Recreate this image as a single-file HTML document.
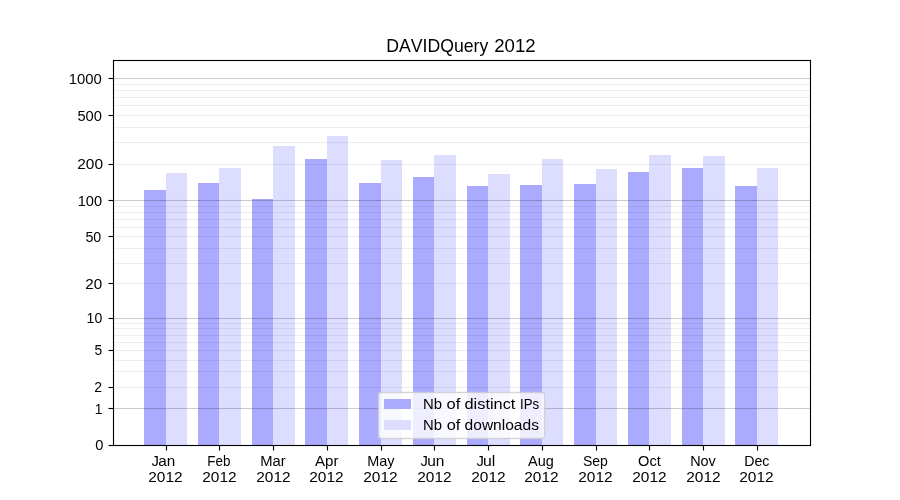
<!DOCTYPE html><html><head><meta charset="utf-8"><style>html,body{margin:0;padding:0;background:#fff;width:900px;height:500px;overflow:hidden}svg{display:block;will-change:transform}text{font-family:"Liberation Sans",sans-serif;fill:#000;font-kerning:none}</style></head><body>
<svg width="900" height="500" viewBox="0 0 900 500">
<rect x="0" y="0" width="900" height="500" fill="#fff"/>
<g shape-rendering="crispEdges">
<rect x="144" y="190" width="22" height="255" fill="#aaaaff"/>
<rect x="198" y="183" width="21" height="262" fill="#aaaaff"/>
<rect x="252" y="199" width="21" height="246" fill="#aaaaff"/>
<rect x="305" y="159" width="22" height="286" fill="#aaaaff"/>
<rect x="359" y="183" width="22" height="262" fill="#aaaaff"/>
<rect x="413" y="177" width="21" height="268" fill="#aaaaff"/>
<rect x="467" y="186" width="21" height="259" fill="#aaaaff"/>
<rect x="520" y="185" width="22" height="260" fill="#aaaaff"/>
<rect x="574" y="184" width="22" height="261" fill="#aaaaff"/>
<rect x="628" y="172" width="21" height="273" fill="#aaaaff"/>
<rect x="682" y="168" width="21" height="277" fill="#aaaaff"/>
<rect x="735" y="186" width="22" height="259" fill="#aaaaff"/>
<rect x="166" y="173" width="21" height="272" fill="#ddddff"/>
<rect x="219" y="168" width="22" height="277" fill="#ddddff"/>
<rect x="273" y="146" width="22" height="299" fill="#ddddff"/>
<rect x="327" y="136" width="21" height="309" fill="#ddddff"/>
<rect x="381" y="160" width="21" height="285" fill="#ddddff"/>
<rect x="434" y="155" width="22" height="290" fill="#ddddff"/>
<rect x="488" y="174" width="22" height="271" fill="#ddddff"/>
<rect x="542" y="159" width="21" height="286" fill="#ddddff"/>
<rect x="596" y="169" width="21" height="276" fill="#ddddff"/>
<rect x="649" y="155" width="22" height="290" fill="#ddddff"/>
<rect x="703" y="156" width="22" height="289" fill="#ddddff"/>
<rect x="757" y="168" width="21" height="277" fill="#ddddff"/>
</g>
<rect x="113.5" y="77.945" width="696.5" height="1.111" fill="#000" fill-opacity="0.2"/>
<rect x="113.5" y="199.945" width="696.5" height="1.111" fill="#000" fill-opacity="0.2"/>
<rect x="113.5" y="317.945" width="696.5" height="1.111" fill="#000" fill-opacity="0.2"/>
<rect x="113.5" y="407.945" width="696.5" height="1.111" fill="#000" fill-opacity="0.2"/>
<rect x="113.5" y="83.945" width="696.5" height="1.111" fill="#000" fill-opacity="0.065"/>
<rect x="113.5" y="89.945" width="696.5" height="1.111" fill="#000" fill-opacity="0.065"/>
<rect x="113.5" y="96.945" width="696.5" height="1.111" fill="#000" fill-opacity="0.065"/>
<rect x="113.5" y="104.945" width="696.5" height="1.111" fill="#000" fill-opacity="0.065"/>
<rect x="113.5" y="114.945" width="696.5" height="1.111" fill="#000" fill-opacity="0.065"/>
<rect x="113.5" y="126.945" width="696.5" height="1.111" fill="#000" fill-opacity="0.065"/>
<rect x="113.5" y="141.945" width="696.5" height="1.111" fill="#000" fill-opacity="0.065"/>
<rect x="113.5" y="163.945" width="696.5" height="1.111" fill="#000" fill-opacity="0.065"/>
<rect x="113.5" y="205.945" width="696.5" height="1.111" fill="#000" fill-opacity="0.065"/>
<rect x="113.5" y="211.945" width="696.5" height="1.111" fill="#000" fill-opacity="0.065"/>
<rect x="113.5" y="218.945" width="696.5" height="1.111" fill="#000" fill-opacity="0.065"/>
<rect x="113.5" y="226.945" width="696.5" height="1.111" fill="#000" fill-opacity="0.065"/>
<rect x="113.5" y="235.945" width="696.5" height="1.111" fill="#000" fill-opacity="0.065"/>
<rect x="113.5" y="247.945" width="696.5" height="1.111" fill="#000" fill-opacity="0.065"/>
<rect x="113.5" y="262.945" width="696.5" height="1.111" fill="#000" fill-opacity="0.065"/>
<rect x="113.5" y="282.945" width="696.5" height="1.111" fill="#000" fill-opacity="0.065"/>
<rect x="113.5" y="322.945" width="696.5" height="1.111" fill="#000" fill-opacity="0.065"/>
<rect x="113.5" y="327.945" width="696.5" height="1.111" fill="#000" fill-opacity="0.065"/>
<rect x="113.5" y="334.945" width="696.5" height="1.111" fill="#000" fill-opacity="0.065"/>
<rect x="113.5" y="341.945" width="696.5" height="1.111" fill="#000" fill-opacity="0.065"/>
<rect x="113.5" y="349.945" width="696.5" height="1.111" fill="#000" fill-opacity="0.065"/>
<rect x="113.5" y="359.945" width="696.5" height="1.111" fill="#000" fill-opacity="0.065"/>
<rect x="113.5" y="370.945" width="696.5" height="1.111" fill="#000" fill-opacity="0.065"/>
<rect x="113.5" y="386.945" width="696.5" height="1.111" fill="#000" fill-opacity="0.065"/>
<rect x="112.945" y="59.944" width="698.111" height="1.111" fill="#000"/>
<rect x="112.945" y="444.945" width="698.111" height="1.111" fill="#000"/>
<rect x="112.945" y="59.944" width="1.111" height="386.111" fill="#000"/>
<rect x="809.944" y="59.944" width="1.111" height="386.111" fill="#000"/>
<rect x="108.5" y="77.945" width="5" height="1.111" fill="#000"/>
<rect x="108.5" y="114.945" width="5" height="1.111" fill="#000"/>
<rect x="108.5" y="163.945" width="5" height="1.111" fill="#000"/>
<rect x="108.5" y="199.945" width="5" height="1.111" fill="#000"/>
<rect x="108.5" y="235.945" width="5" height="1.111" fill="#000"/>
<rect x="108.5" y="282.945" width="5" height="1.111" fill="#000"/>
<rect x="108.5" y="317.945" width="5" height="1.111" fill="#000"/>
<rect x="108.5" y="349.945" width="5" height="1.111" fill="#000"/>
<rect x="108.5" y="386.945" width="5" height="1.111" fill="#000"/>
<rect x="108.5" y="407.945" width="5" height="1.111" fill="#000"/>
<rect x="108.5" y="444.945" width="5" height="1.111" fill="#000"/>
<rect x="165.945" y="445.5" width="1.111" height="5" fill="#000"/>
<rect x="218.945" y="445.5" width="1.111" height="5" fill="#000"/>
<rect x="272.945" y="445.5" width="1.111" height="5" fill="#000"/>
<rect x="326.945" y="445.5" width="1.111" height="5" fill="#000"/>
<rect x="380.945" y="445.5" width="1.111" height="5" fill="#000"/>
<rect x="433.945" y="445.5" width="1.111" height="5" fill="#000"/>
<rect x="487.945" y="445.5" width="1.111" height="5" fill="#000"/>
<rect x="541.944" y="445.5" width="1.111" height="5" fill="#000"/>
<rect x="595.944" y="445.5" width="1.111" height="5" fill="#000"/>
<rect x="648.944" y="445.5" width="1.111" height="5" fill="#000"/>
<rect x="702.944" y="445.5" width="1.111" height="5" fill="#000"/>
<rect x="756.944" y="445.5" width="1.111" height="5" fill="#000"/>
<rect x="378.5" y="392.5" width="166" height="46" rx="2.78" ry="2.78" fill="#fff" fill-opacity="0.8" stroke="#ccc" stroke-opacity="0.8" stroke-width="1.389"/>
<rect x="384" y="399" width="27" height="10" fill="#aaaaff" shape-rendering="crispEdges"/>
<rect x="384" y="420" width="27" height="10" fill="#ddddff" shape-rendering="crispEdges"/>
<text transform="matrix(0.99963 0 0 0.99052 386.256 51.877)" font-size="17.667">DAVIDQuery</text>
<text transform="matrix(1.05576 0 0 1.00190 494.163 52.000)" font-size="17.667">2012</text>
<text transform="matrix(0.99699 0 0 1.03477 95.325 450.198)" font-size="14.722">0</text>
<text transform="matrix(0.93829 0 0 1.01973 94.701 414.000)" font-size="14.722">1</text>
<text transform="matrix(0.95464 0 0 1.01899 94.320 392.000)" font-size="14.722">2</text>
<text transform="matrix(0.93997 0 0 1.02988 94.408 355.299)" font-size="14.722">5</text>
<text transform="matrix(0.95627 0 0 1.02268 86.595 323.000)" font-size="14.722">10</text>
<text transform="matrix(1.03354 0 0 1.00477 85.247 289.000)" font-size="14.722">20</text>
<text transform="matrix(0.96803 0 0 1.01955 85.393 242.195)" font-size="14.722">50</text>
<text transform="matrix(0.99307 0 0 1.03057 77.671 206.000)" font-size="14.722">100</text>
<text transform="matrix(1.05306 0 0 1.00708 77.194 169.000)" font-size="14.722">200</text>
<text transform="matrix(0.99771 0 0 1.01467 77.408 121.147)" font-size="14.722">500</text>
<text transform="matrix(1.01304 0 0 1.02273 68.633 84.000)" font-size="14.722">1000</text>
<text transform="matrix(1.00237 0 0 1.00237 151.416 466.024)" font-size="14.722">J</text>
<text transform="matrix(1.03900 0 0 1.00623 158.231 466.000)" font-size="14.722">an</text>
<text transform="matrix(1.05089 0 0 1.00764 148.191 482.000)" font-size="14.722">2012</text>
<text transform="matrix(0.91036 0 0 1.04853 207.272 466.024)" font-size="14.722">Feb</text>
<text transform="matrix(1.05089 0 0 1.00764 202.191 482.000)" font-size="14.722">2012</text>
<text transform="matrix(1.00282 0 0 1.00242 260.159 466.024)" font-size="14.722">Mar</text>
<text transform="matrix(1.05089 0 0 1.00764 256.191 482.000)" font-size="14.722">2012</text>
<text transform="matrix(1.02212 0 0 1.02875 315.000 466.153)" font-size="14.722">Apr</text>
<text transform="matrix(1.05089 0 0 1.00764 309.191 482.000)" font-size="14.722">2012</text>
<text transform="matrix(0.98155 0 0 1.00000 367.163 466.000)" font-size="14.722">May</text>
<text transform="matrix(1.05089 0 0 1.00764 363.191 482.000)" font-size="14.722">2012</text>
<text transform="matrix(1.00242 0 0 1.00242 420.449 466.024)" font-size="14.722">J</text>
<text transform="matrix(1.05270 0 0 1.00000 427.146 466.000)" font-size="14.722">un</text>
<text transform="matrix(1.05089 0 0 1.00764 417.191 482.000)" font-size="14.722">2012</text>
<text transform="matrix(1.00242 0 0 1.00242 476.449 466.024)" font-size="14.722">J</text>
<text transform="matrix(1.07490 0 0 1.04957 483.071 466.181)" font-size="14.722">ul</text>
<text transform="matrix(1.05089 0 0 1.00764 471.191 482.000)" font-size="14.722">2012</text>
<text transform="matrix(0.98390 0 0 0.99125 528.087 465.856)" font-size="14.722">Aug</text>
<text transform="matrix(1.05089 0 0 1.00764 524.191 482.000)" font-size="14.722">2012</text>
<text transform="matrix(0.95563 0 0 0.94016 582.892 466.172)" font-size="14.722">Sep</text>
<text transform="matrix(1.05089 0 0 1.00764 578.191 482.000)" font-size="14.722">2012</text>
<text transform="matrix(0.99233 0 0 1.02663 638.112 465.976)" font-size="14.722">Oct</text>
<text transform="matrix(1.05089 0 0 1.00764 632.191 482.000)" font-size="14.722">2012</text>
<text transform="matrix(0.98044 0 0 1.01227 690.173 466.000)" font-size="14.722">Nov</text>
<text transform="matrix(1.05089 0 0 1.00764 686.191 482.000)" font-size="14.722">2012</text>
<text transform="matrix(0.96559 0 0 1.00000 744.164 466.000)" font-size="14.722">Dec</text>
<text transform="matrix(1.05089 0 0 1.00764 739.191 482.000)" font-size="14.722">2012</text>
<text transform="matrix(1.01408 0 0 1.03966 423.089 409.409)" font-size="14.722">Nb</text>
<text transform="matrix(1.12025 0 0 0.98629 446.543 409.044)" font-size="14.722">of</text>
<text transform="matrix(1.11133 0 0 1.03060 464.515 409.401)" font-size="14.722">distinct</text>
<text transform="matrix(0.90031 0 0 0.97872 520.102 409.246)" font-size="14.722">IPs</text>
<text transform="matrix(1.00990 0 0 1.04672 423.122 430.411)" font-size="14.722">Nb</text>
<text transform="matrix(1.11295 0 0 1.02824 446.636 430.032)" font-size="14.722">of</text>
<text transform="matrix(1.05662 0 0 1.03060 464.588 430.401)" font-size="14.722">downloads</text>
</svg></body></html>
